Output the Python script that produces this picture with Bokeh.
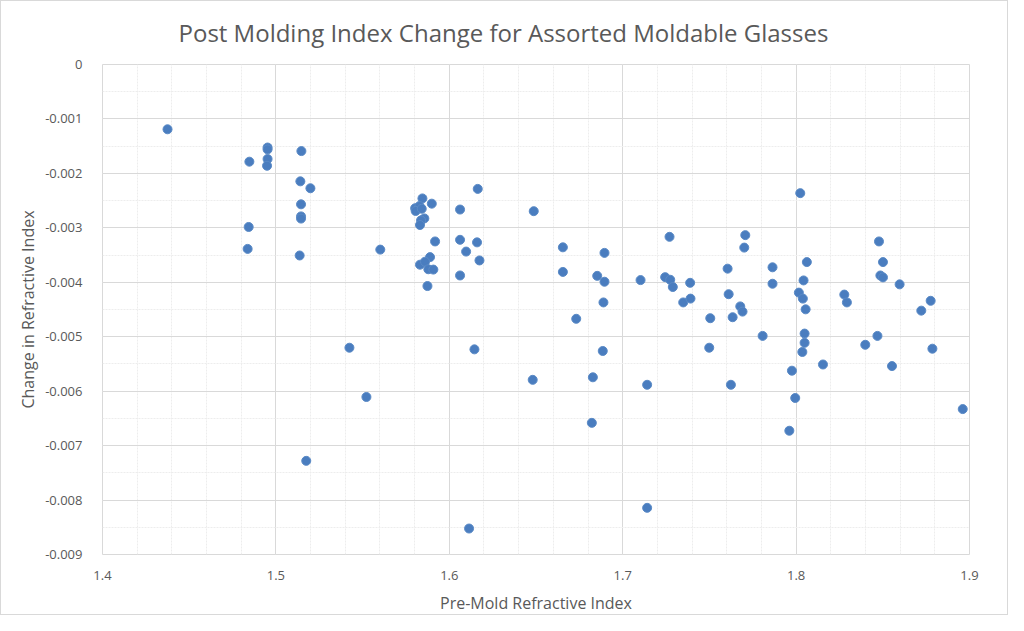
from bokeh.plotting import figure
from bokeh.models import FixedTicker, CustomJSTickFormatter, Range1d
from bokeh.embed import file_html
from bokeh.resources import INLINE

# Pre-mold refractive index (x) and change in refractive index (y)
pre_mold_index = [
    1.4375, 1.4952, 1.4952, 1.5147, 1.4847, 1.4952, 1.4949, 1.5141, 1.5199,
    1.5145, 1.5145, 1.5145, 1.4843, 1.4837, 1.5137, 1.5602, 1.5424, 1.5522,
    1.5175,
    1.6164, 1.5845, 1.5899, 1.5803, 1.5828, 1.5806, 1.5841, 1.5856, 1.5837,
    1.5831, 1.6062, 1.6487, 1.5918, 1.6062, 1.6160, 1.6097, 1.6174, 1.5889,
    1.5831, 1.5860, 1.5879, 1.5908, 1.5874, 1.6062, 1.6655, 1.6655, 1.6895,
    1.6853, 1.6895, 1.6889, 1.6732, 1.7103, 1.6145, 1.6885, 1.6481, 1.6828,
    1.7141, 1.6822, 1.7141, 1.6114,
    1.8024, 1.7270, 1.7707, 1.7701, 1.8478, 1.8501, 1.8062, 1.7864, 1.7605,
    1.7245, 1.7274, 1.7289, 1.7389, 1.7349, 1.7391, 1.8043, 1.7864, 1.8486,
    1.8501, 1.8597, 1.8016, 1.8039, 1.8055, 1.7611, 1.7678, 1.7691, 1.7634,
    1.7505, 1.8278, 1.8293, 1.8776, 1.8722, 1.7807, 1.8049, 1.8049, 1.8036,
    1.8469, 1.8399, 1.8786, 1.7499, 1.8155, 1.8553, 1.7976, 1.7624, 1.7995,
    1.8961, 1.7961,
]
index_change = [
    -0.00119, -0.001525, -0.00156, -0.00159, -0.001785, -0.001736, -0.00186,
    -0.002146, -0.002273, -0.002568, -0.00279, -0.00283, -0.002984, -0.003387,
    -0.003508, -0.0034, -0.005202, -0.006107, -0.00728,
    -0.002285, -0.00246, -0.002556, -0.00264, -0.0026, -0.00269, -0.00265,
    -0.002827, -0.002863, -0.002948, -0.002664, -0.002694, -0.00325, -0.00322,
    -0.003267, -0.003436, -0.003599, -0.003538, -0.003677, -0.003622,
    -0.003761, -0.003767, -0.004069, -0.003875, -0.003358, -0.00381, -0.00346,
    -0.003882, -0.00399, -0.00437, -0.004671, -0.00396, -0.005232, -0.005262,
    -0.005792, -0.005745, -0.005883, -0.006582, -0.008143, -0.008523,
    -0.002363, -0.003165, -0.003134, -0.003363, -0.00325, -0.003629,
    -0.003629, -0.003725, -0.00375, -0.003906, -0.003954, -0.004087, -0.00401,
    -0.00437, -0.0043, -0.003966, -0.004027, -0.003875, -0.00391, -0.004038,
    -0.00419, -0.0043, -0.004497, -0.004219, -0.004443, -0.004539, -0.004642,
    -0.00466, -0.004226, -0.00437, -0.00434, -0.004521, -0.004985, -0.004942,
    -0.005112, -0.00528, -0.004985, -0.005148, -0.00522, -0.005202, -0.00551,
    -0.005539, -0.005624, -0.005883, -0.006125, -0.006329, -0.006727,
]

x_ticks = [1.4, 1.5, 1.6, 1.7, 1.8, 1.9]
y_ticks = [0, -0.001, -0.002, -0.003, -0.004, -0.005, -0.006, -0.007, -0.008, -0.009]
x_minor_ticks = [round(1.4 + 0.02 * i, 2) for i in range(26)]
y_minor_ticks = [round(-0.0005 * i, 4) for i in range(19)]

TEXT = "#595959"
FONT = "Open Sans"

p = figure(
    width=1008, height=615,
    x_range=Range1d(1.4, 1.9), y_range=Range1d(-0.009, 0),
    output_backend="svg", toolbar_location=None,
    min_border_left=101, min_border_right=40,
    min_border_top=61, min_border_bottom=57,
    title="Post Molding Index Change for Assorted Moldable Glasses",
)
p.styles = {"border": "1px solid #d9d9d9"}

p.title.align = "left"
p.title.offset = 76
p.title.standoff = 28
p.title.vertical_align = "top"
p.title.text_font = FONT
p.title.text_font_size = "24px"
p.title.text_font_style = "normal"
p.title.text_color = TEXT

p.scatter(pre_mold_index, index_change, size=9, color="#4a7dbf", line_color="#5a8ac6")

p.xaxis.ticker = FixedTicker(ticks=x_ticks, minor_ticks=x_minor_ticks)
p.yaxis.ticker = FixedTicker(ticks=y_ticks, minor_ticks=y_minor_ticks)
p.xaxis.formatter = CustomJSTickFormatter(code="return tick.toFixed(1);")
p.yaxis.formatter = CustomJSTickFormatter(
    code="return Math.abs(tick) < 1e-9 ? '0' : tick.toFixed(3);")

for ax in (p.xaxis, p.yaxis):
    ax.axis_line_color = None
    ax.major_tick_line_color = None
    ax.minor_tick_line_color = None
    ax.major_label_text_font = FONT
    ax.major_label_text_font_size = "13px"
    ax.major_label_text_color = TEXT
    ax.axis_label_text_font = FONT
    ax.axis_label_text_font_size = "16px"
    ax.axis_label_text_font_style = "normal"
    ax.axis_label_text_color = TEXT

p.xaxis.axis_label = "Pre-Mold Refractive Index"
p.yaxis.axis_label = "Change in Refractive Index"
p.xaxis.major_label_standoff = 10
p.yaxis.major_label_standoff = 14
p.xaxis.axis_label_standoff = 9
p.yaxis.axis_label_standoff = 3

for g in (p.xgrid, p.ygrid):
    g.grid_line_color = "#d9d9d9"
    g.grid_line_width = 1
    g.minor_grid_line_color = "#ededed"
    g.minor_grid_line_dash = "2 1"

p.outline_line_color = "#d9d9d9"
p.background_fill_color = "white"
p.border_fill_color = "white"

open("out.html", "w").write(file_html(p, INLINE))
